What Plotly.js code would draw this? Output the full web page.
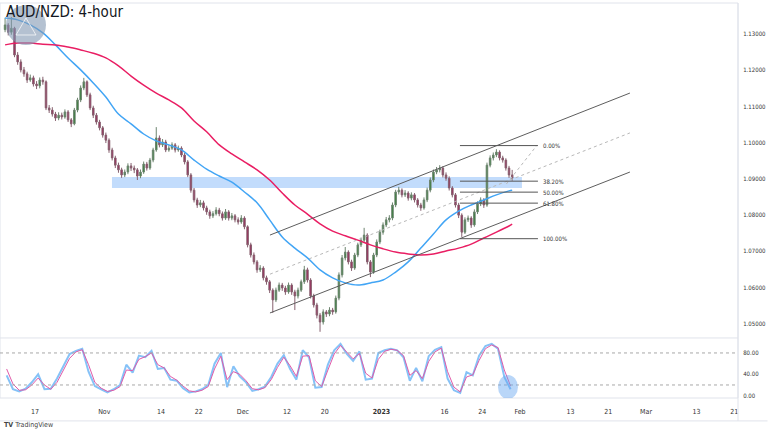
<!DOCTYPE html>
<html><head><meta charset="utf-8">
<script src="https://cdn.plot.ly/plotly-3.0.1.min.js"></script>
<style>html,body{margin:0;padding:0;background:#fff}#chart{width:768px;height:432px}</style>
</head><body><div id="chart"></div>
<script>
// ---- data ----
const firstDay = '2022-10-10', lastDay = '2023-01-30';
const openP = [1.1312,1.1325,1.1305,1.1316,1.1242,1.1223,1.1201,1.1190,1.1173,1.1179,
1.1162,1.1157,1.1173,1.1168,1.1096,1.1090,1.1079,1.1068,1.1076,1.1071,
1.1085,1.1063,1.1052,1.1090,1.1118,1.1151,1.1168,1.1132,1.1096,1.1076,
1.1057,1.1041,1.1021,1.1007,1.0980,1.0958,1.0938,1.0925,1.0911,1.0919,
1.0936,1.0930,1.0925,1.0908,1.0919,1.0941,1.0930,1.0952,1.0980,1.1013,
1.0994,1.1002,1.0980,1.0985,1.0994,1.0980,1.0985,1.0966,1.0947,1.0911,
1.0869,1.0842,1.0828,1.0834,1.0820,1.0809,1.0798,1.0804,1.0814,1.0804,
1.0792,1.0809,1.0792,1.0798,1.0787,1.0781,1.0792,1.0768,1.0718,1.0690,
1.0671,1.0649,1.0654,1.0627,1.0616,1.0593,1.0566,1.0593,1.0607,1.0599,
1.0588,1.0607,1.0588,1.0577,1.0593,1.0616,1.0649,1.0621,1.0577,1.0552,
1.0524,1.0505,1.0533,1.0527,1.0538,1.0533,1.0571,1.0635,1.0682,1.0698,
1.0671,1.0654,1.0690,1.0718,1.0731,1.0745,1.0671,1.0643,1.0690,1.0726,
1.0753,1.0773,1.0787,1.0792,1.0828,1.0864,1.0869,1.0856,1.0861,1.0847,
1.0856,1.0842,1.0828,1.0820,1.0842,1.0869,1.0897,1.0919,1.0925,1.0930,
1.0911,1.0902,1.0875,1.0856,1.0828,1.0800,1.0753,1.0787,1.0792,1.0773,
1.0809,1.0831,1.0842,1.0828,1.0938,1.0958,1.0966,1.0974,1.0958,1.0952,
1.0930,1.0911];
const highP = [1.1345,1.1330,1.1347,1.1320,1.1250,1.1230,1.1209,1.1196,1.1188,1.1185,
1.1170,1.1180,1.1182,1.1172,1.1104,1.1098,1.1085,1.1084,1.1083,1.1092,
1.1090,1.1068,1.1096,1.1124,1.1158,1.1179,1.1172,1.1138,1.1102,1.1082,
1.1063,1.1046,1.1028,1.1012,1.0986,1.0964,1.0945,1.0931,1.0926,1.0943,
1.0944,1.0937,1.0930,1.0926,1.0948,1.0947,1.0958,1.0986,1.1043,1.1020,
1.1010,1.1008,1.0993,1.1001,1.0999,1.0992,1.0990,1.0972,1.0952,1.0916,
1.0875,1.0848,1.0842,1.0840,1.0826,1.0815,1.0811,1.0822,1.0820,1.0810,
1.0817,1.0814,1.0806,1.0803,1.0794,1.0800,1.0797,1.0772,1.0724,1.0697,
1.0676,1.0662,1.0659,1.0633,1.0621,1.0598,1.0600,1.0614,1.0613,1.0605,
1.0614,1.0612,1.0594,1.0600,1.0622,1.0660,1.0655,1.0626,1.0583,1.0558,
1.0530,1.0540,1.0538,1.0546,1.0544,1.0578,1.0642,1.0690,1.0712,1.0703,
1.0677,1.0696,1.0724,1.0738,1.0765,1.0750,1.0676,1.0696,1.0733,1.0760,
1.0780,1.0795,1.0800,1.0835,1.0870,1.0878,1.0874,1.0869,1.0866,1.0863,
1.0861,1.0847,1.0834,1.0849,1.0876,1.0904,1.0926,1.0933,1.0938,1.0935,
1.0918,1.0907,1.0880,1.0861,1.0834,1.0805,1.0794,1.0799,1.0797,1.0816,
1.0838,1.0849,1.0847,1.0945,1.0965,1.0973,1.0982,1.0979,1.0964,1.0957,
1.0936,1.0925];
const lowP = [1.1305,1.1296,1.1298,1.1236,1.1215,1.1194,1.1182,1.1165,1.1168,1.1155,
1.1148,1.1150,1.1160,1.1090,1.1082,1.1072,1.1060,1.1062,1.1064,1.1066,
1.1057,1.1043,1.1048,1.1084,1.1112,1.1145,1.1126,1.1090,1.1068,1.1050,
1.1034,1.1014,1.0999,1.0972,1.0951,1.0930,1.0917,1.0903,1.0905,1.0913,
1.0922,1.0916,1.0897,1.0902,1.0914,1.0923,1.0925,1.0946,1.0975,1.0987,
1.0988,1.0974,1.0975,1.0980,1.0973,1.0975,1.0960,1.0940,1.0905,1.0862,
1.0835,1.0820,1.0822,1.0813,1.0801,1.0790,1.0792,1.0799,1.0797,1.0785,
1.0787,1.0785,1.0786,1.0780,1.0774,1.0776,1.0761,1.0711,1.0683,1.0664,
1.0641,1.0643,1.0620,1.0608,1.0585,1.0530,1.0560,1.0588,1.0591,1.0580,
1.0583,1.0580,1.0538,1.0570,1.0588,1.0610,1.0614,1.0570,1.0545,1.0515,
1.0478,1.0498,1.0519,1.0521,1.0525,1.0528,1.0565,1.0628,1.0675,1.0664,
1.0646,1.0649,1.0684,1.0712,1.0726,1.0664,1.0629,1.0638,1.0684,1.0720,
1.0746,1.0767,1.0780,1.0786,1.0822,1.0857,1.0849,1.0850,1.0840,1.0841,
1.0835,1.0821,1.0812,1.0815,1.0836,1.0863,1.0891,1.0913,1.0918,1.0904,
1.0895,1.0868,1.0849,1.0821,1.0792,1.0740,1.0748,1.0781,1.0765,1.0768,
1.0803,1.0825,1.0820,1.0823,1.0932,1.0951,1.0960,1.0951,1.0945,1.0923,
1.0903,1.0895];
const closeP = [1.1325,1.1305,1.1316,1.1242,1.1223,1.1201,1.1190,1.1173,1.1179,1.1162,
1.1157,1.1173,1.1168,1.1096,1.1090,1.1079,1.1068,1.1076,1.1071,1.1085,
1.1063,1.1052,1.1090,1.1118,1.1151,1.1168,1.1132,1.1096,1.1076,1.1057,
1.1041,1.1021,1.1007,1.0980,1.0958,1.0938,1.0925,1.0911,1.0919,1.0936,
1.0930,1.0925,1.0908,1.0919,1.0941,1.0930,1.0952,1.0980,1.1013,1.0994,
1.1002,1.0980,1.0985,1.0994,1.0980,1.0985,1.0966,1.0947,1.0911,1.0869,
1.0842,1.0828,1.0834,1.0820,1.0809,1.0798,1.0804,1.0814,1.0804,1.0792,
1.0809,1.0792,1.0798,1.0787,1.0781,1.0792,1.0768,1.0718,1.0690,1.0671,
1.0649,1.0654,1.0627,1.0616,1.0593,1.0566,1.0593,1.0607,1.0599,1.0588,
1.0607,1.0588,1.0577,1.0593,1.0616,1.0649,1.0621,1.0577,1.0552,1.0524,
1.0505,1.0533,1.0527,1.0538,1.0533,1.0571,1.0635,1.0682,1.0698,1.0671,
1.0654,1.0690,1.0718,1.0731,1.0745,1.0671,1.0643,1.0690,1.0726,1.0753,
1.0773,1.0787,1.0792,1.0828,1.0864,1.0869,1.0856,1.0861,1.0847,1.0856,
1.0842,1.0828,1.0820,1.0842,1.0869,1.0897,1.0919,1.0925,1.0930,1.0911,
1.0902,1.0875,1.0856,1.0828,1.0800,1.0753,1.0787,1.0792,1.0773,1.0809,
1.0831,1.0842,1.0828,1.0938,1.0958,1.0966,1.0974,1.0958,1.0952,1.0930,
1.0911,1.0902];
// moving averages, read every 4th candle (+ last candle)
const maBlue = [1.1344,1.1339,1.1325,1.1303,1.1270,1.1234,1.1201,1.1165,1.1126,1.1079,
1.1052,1.1024,1.1005,1.0994,1.0980,1.0952,1.0927,1.0908,1.0891,1.0864,
1.0834,1.0787,1.0740,1.0709,1.0682,1.0649,1.0627,1.0613,1.0607,1.0613,
1.0621,1.0643,1.0671,1.0709,1.0748,1.0787,1.0811,1.0828,1.0842,1.0856,
1.0867,1.0869];
const maPink = [1.1270,1.1275,1.1275,1.1272,1.1270,1.1264,1.1256,1.1247,1.1234,1.1212,
1.1184,1.1159,1.1137,1.1118,1.1096,1.1060,1.1030,1.0994,1.0969,1.0947,
1.0925,1.0897,1.0861,1.0828,1.0803,1.0776,1.0756,1.0743,1.0731,1.0718,
1.0707,1.0698,1.0693,1.0690,1.0693,1.0701,1.0709,1.0720,1.0737,1.0753,
1.0770,1.0775];
// stochastic, one reading per trading day
const stochK = [38,12,8,13,25,40,12,13,32,55,78,84,88,45,18,12,6,12,20,58,43,75,72,84,50,52,30,28,14,6,8,12,20,60,80,16,55,36,25,9,12,17,35,60,76,50,30,85,72,15,16,58,85,97,78,65,83,30,32,80,85,88,85,72,28,52,27,74,86,91,32,10,5,44,38,75,93,97,88,35,12];
const stochD = [50,22,10,11,20,33,20,12,25,48,70,82,86,58,25,14,8,10,17,48,47,68,73,80,58,52,36,29,18,9,7,10,17,50,74,30,45,40,28,13,11,15,30,53,72,56,36,74,75,28,17,48,78,94,82,69,79,42,33,68,83,87,85,75,38,47,32,64,82,89,45,16,7,35,39,66,88,95,90,48,18];
// axis ticks
const xTickDates = ['2022-10-17','2022-11-01','2022-11-14','2022-11-22','2022-12-01','2022-12-12','2022-12-20','2023-01-02','2023-01-16','2023-01-24','2023-02-01','2023-02-13','2023-02-21','2023-03-01','2023-03-13','2023-03-21'];
const xTickText = ['17','Nov','14','22','Dec','12','20','<b>2023</b>','16','24','Feb','13','21','Mar','13','21'];
const priceTicks = [1.05,1.06,1.07,1.08,1.09,1.10,1.11,1.12,1.13];
const stochTicks = [0,40,80];
const stochLevels = [80,20];
// drawings
const zoneX = ['2022-11-02 05:17','2023-02-01 07:12'];
const zoneY = [1.0875,1.0905];
const channelX = ['2022-12-07 07:12','2023-02-24 10:34'];
const channelUpper = [1.0745,1.1137];
const channelLower = [1.0530,1.0919];
const channelMid = [1.0637,1.1027];
const projX = ['2023-01-27 20:00','2023-02-03 16:48'];
const projY = [1.0886,1.0993];
const fibX = ['2023-01-18 11:00','2023-02-03 20:10'];
const fibLabelX = '2023-02-06 06:00';
const fibHigh = 1.0992, fibLow = 1.0735;
const fibRatios = [0,0.382,0.5,0.618,1];
const fibLabels = ['0.00%','38.20%','50.00%','61.80%','100.00%'];
const markX = '2023-01-30 02:00', markY = 16;

// ---- time index ----
const H = 3600000;
const fmt = ms => new Date(ms).toISOString().slice(0,16).replace('T',' ');
const days = [];
for (let t = Date.parse(firstDay+'T00:00:00Z'); t <= Date.parse(lastDay+'T00:00:00Z'); t += 24*H) {
  const wd = new Date(t).getUTCDay(); if (wd !== 0 && wd !== 6) days.push(t);
}
const candleX = [];
days.forEach(t => { candleX.push(fmt(t+6*H)); candleX.push(fmt(t+18*H)); });
const stochX = days.map(t => fmt(t+12*H));
const maX = [];
for (let i = 0; i < candleX.length; i += 4) maX.push(candleX[i]);
maX.push(candleX[candleX.length-1]);

const FONT = 'Liberation Sans Narrow, DejaVu Sans Condensed, Arial Narrow, sans-serif';
const traces = [
  {type:'candlestick', x:candleX, open:openP, high:highP, low:lowP, close:closeP, xaxis:'x', yaxis:'y',
   increasing:{line:{color:'#6e8570', width:1}, fillcolor:'#2e7d32'},
   decreasing:{line:{color:'#86616f', width:1}, fillcolor:'#a0245a'},
   whiskerwidth:0, showlegend:false, hoverinfo:'skip'},
  {type:'scatter', mode:'lines', x:maX, y:maBlue, line:{color:'#42a5f5', width:1.5, shape:'spline'}, yaxis:'y', showlegend:false, hoverinfo:'skip'},
  {type:'scatter', mode:'lines', x:maX, y:maPink, line:{color:'#e91e63', width:1.5, shape:'spline'}, yaxis:'y', showlegend:false, hoverinfo:'skip'},
  {type:'scatter', mode:'lines', x:stochX, y:stochK, line:{color:'#86c2f7', width:2}, yaxis:'y2', showlegend:false, hoverinfo:'skip'},
  {type:'scatter', mode:'lines', x:stochX, y:stochD, line:{color:'#e05aa8', width:1}, yaxis:'y2', showlegend:false, hoverinfo:'skip'}
];

const shapes = [];
const border = '#e0e3eb';
shapes.push({type:'rect', xref:'paper', yref:'paper', x0:0, x1:1, y0:0, y1:1, line:{color:border, width:1}});
shapes.push({type:'line', xref:'paper', yref:'paper', x0:0, x1:1, y0:0.152, y1:0.152, line:{color:border, width:1}});
shapes.push({type:'line', xref:'paper', yref:'paper', x0:1, x1:1, y0:-0.058, y1:1, line:{color:border, width:1}});
shapes.push({type:'line', xref:'paper', yref:'paper', x0:0, x1:1.04, y0:-0.058, y1:-0.058, line:{color:border, width:1}});
stochLevels.forEach(v => shapes.push({type:'line', xref:'paper', yref:'y2', x0:0, x1:1, y0:v, y1:v, line:{color:'#a8a8a8', width:1, dash:'3px,3px'}}));
shapes.push({type:'rect', xref:'x', yref:'y', x0:zoneX[0], x1:zoneX[1], y0:zoneY[0], y1:zoneY[1], fillcolor:'rgba(144,191,249,0.55)', line:{width:0}, layer:'below'});
shapes.push({type:'line', xref:'x', yref:'y', x0:channelX[0], x1:channelX[1], y0:channelUpper[0], y1:channelUpper[1], line:{color:'#5d5d5d', width:1}});
shapes.push({type:'line', xref:'x', yref:'y', x0:channelX[0], x1:channelX[1], y0:channelLower[0], y1:channelLower[1], line:{color:'#5d5d5d', width:1}});
shapes.push({type:'line', xref:'x', yref:'y', x0:channelX[0], x1:channelX[1], y0:channelMid[0], y1:channelMid[1], line:{color:'#b8b8b8', width:1, dash:'3px,3px'}});
shapes.push({type:'line', xref:'x', yref:'y', x0:projX[0], x1:projX[1], y0:projY[0], y1:projY[1], line:{color:'#b8b8b8', width:1, dash:'3px,3px'}});
const annotations = [];
fibRatios.forEach((r, i) => {
  const lv = fibHigh - r*(fibHigh - fibLow);
  shapes.push({type:'line', xref:'x', yref:'y', x0:fibX[0], x1:fibX[1], y0:lv, y1:lv, line:{color:'#555555', width:1}});
  annotations.push({xref:'x', yref:'y', x:fibLabelX, y:lv, text:fibLabels[i], showarrow:false, xanchor:'left', yanchor:'middle', font:{size:6, color:'#333', family:FONT}});
});
shapes.push({type:'circle', xref:'x', yref:'y2', xsizemode:'pixel', ysizemode:'pixel', xanchor:markX, yanchor:markY, x0:-10, x1:10, y0:-12, y1:12, fillcolor:'rgba(100,165,240,0.45)', line:{width:0}});
// watermark logo
shapes.push({type:'circle', xref:'paper', yref:'paper', x0:0.0081, x1:0.0623, y0:0.8937, y1:0.9949, fillcolor:'rgba(130,152,178,0.6)', line:{width:0}});
shapes.push({type:'path', xref:'paper', yref:'paper', path:'M 0.0217,0.9190 L 0.0352,0.9620 L 0.0488,0.9190 Z', line:{color:'rgba(255,255,255,0.7)', width:1}});
annotations.push({xref:'paper', yref:'paper', x:0.003, y:-0.068, xanchor:'left', yanchor:'middle', showarrow:false, text:'<b>TV</b> TradingView', font:{size:7, color:'#444', family:FONT}});

const layout = {
  width:768, height:432, margin:{l:0, r:30, t:3, b:34},
  paper_bgcolor:'#fff', plot_bgcolor:'#fff',
  font:{family:FONT, color:'#333'},
  title:{text:'AUD/NZD: 4-hour', x:6/768, xanchor:'left', xref:'container', y:1-12/432, yanchor:'middle', yref:'container', font:{size:15, color:'#131722', family:FONT}},
  showlegend:false,
  xaxis:{type:'date', range:['2022-10-07 10:40','2023-03-21 14:24'], rangebreaks:[{bounds:['sat','mon']}],
    rangeslider:{visible:false}, anchor:'y2', showgrid:false, zeroline:false, showline:false,
    tickvals:xTickDates, ticktext:xTickText, tickfont:{size:7, color:'#333'}, ticks:'outside', ticklen:7, tickcolor:'rgba(0,0,0,0)', fixedrange:true},
  yaxis:{domain:[0.152,1], range:[1.0461,1.13856], side:'right', anchor:'x', showgrid:false, zeroline:false,
    tickvals:priceTicks, tickformat:'.5f', tickfont:{size:6, color:'#333'}, ticks:'outside', ticklen:3, tickcolor:'rgba(0,0,0,0)'},
  yaxis2:{domain:[0,0.152], range:[-4.4,108.1], side:'right', anchor:'x', showgrid:false, zeroline:false,
    tickvals:stochTicks, tickformat:'.2f', tickfont:{size:6, color:'#333'}, ticks:'outside', ticklen:3, tickcolor:'rgba(0,0,0,0)'},
  shapes:shapes, annotations:annotations
};
Plotly.newPlot('chart', traces, layout, {staticPlot:true, displayModeBar:false});
</script></body></html>
